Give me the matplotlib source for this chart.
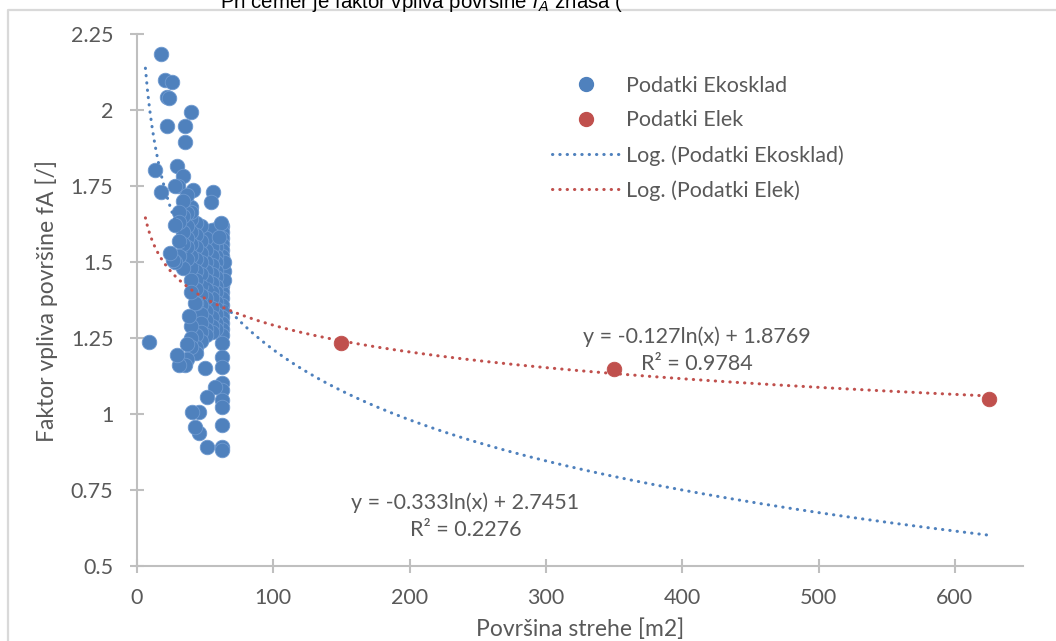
import numpy as np
import matplotlib
matplotlib.use("Agg")
import matplotlib.pyplot as plt
from matplotlib.lines import Line2D

plt.rcParams['font.family'] = ['Lato', 'DejaVu Sans']

# Podatki Ekosklad: površina strehe [m2] in faktor fA
eko_x = [17.6, 20.5, 25.4, 21.8, 23.7, 39.6, 22.2, 35.2, 35.2, 13.4, 29.6, 34.0, 17.6, 30.3, 41.3, 56.0, 54.3,
         9.0,
         62.5, 62.5, 62.5, 62.5, 62.5, 62.5, 62.5, 62.5, 62.5, 62.5, 62.5, 62.5, 62.5, 62.5, 62.5, 62.5, 62.5,
         62.5, 62.5, 62.5, 62.5, 62.5, 62.5, 62.5, 62.5, 62.5, 62.5, 62.5, 62.5,
         64.0, 64.0, 64.0,
         58.0, 58.0, 58.0, 58.0, 58.0, 58.0, 58.0, 58.0, 58.0, 58.0, 58.0, 58.0, 58.0, 58.0, 58.0, 57.2,
         55.0, 55.0, 55.0, 55.0, 55.0, 55.0, 55.0, 55.0, 55.0, 55.0, 55.0, 55.0,
         51.0, 51.0, 51.0, 51.0, 51.0, 51.0, 51.0, 51.0, 51.0, 51.0, 51.0, 49.9, 51.1, 51.1,
         47.0, 47.0, 47.0, 47.0, 47.0, 47.0, 47.0, 47.0, 47.0, 47.0, 47.0, 47.0, 45.5, 45.7,
         43.5, 43.5, 43.5, 43.5, 43.5, 43.5, 43.5, 43.5, 43.5, 43.5, 43.5, 42.5, 42.5,
         40.0, 40.0, 40.0, 40.0, 40.0, 40.0, 40.0, 40.0, 40.0, 38.4, 40.0, 40.0, 40.0, 40.1,
         37.0, 37.0, 37.0, 37.0, 37.0, 37.0, 37.0, 37.0,
         34.0, 34.0, 34.0, 34.0, 34.0, 35.2,
         31.0, 31.0, 31.0, 31.0, 31.0, 29.1,
         28.0, 28.0, 27.9, 26.6, 24.2, 61.6, 60.1]
eko_y = [2.183, 2.099, 2.091, 2.044, 2.039, 1.992, 1.947, 1.947, 1.895, 1.803, 1.816, 1.783, 1.730, 1.750, 1.737, 1.730, 1.698,
         1.238,
         1.62, 1.60, 1.58, 1.56, 1.54, 1.52, 1.50, 1.48, 1.46, 1.44, 1.42, 1.40, 1.38, 1.36, 1.34, 1.32, 1.30,
         1.28, 1.26, 1.234, 1.187, 1.155, 1.102, 1.080, 1.046, 1.023, 0.964, 0.892, 0.880,
         1.47, 1.50, 1.44,
         1.61, 1.57, 1.55, 1.52, 1.50, 1.47, 1.45, 1.42, 1.40, 1.37, 1.35, 1.33, 1.30, 1.28, 1.58, 1.090,
         1.605, 1.55, 1.52, 1.49, 1.46, 1.43, 1.40, 1.38, 1.35, 1.32, 1.29, 1.27,
         1.58, 1.54, 1.50, 1.47, 1.44, 1.41, 1.38, 1.34, 1.31, 1.28, 1.26, 1.151, 1.057, 0.890,
         1.62, 1.57, 1.53, 1.50, 1.46, 1.42, 1.39, 1.36, 1.33, 1.30, 1.27, 1.24, 0.937, 1.008,
         1.628, 1.59, 1.55, 1.51, 1.47, 1.44, 1.41, 1.365, 1.26, 1.22, 1.20, 0.958, 1.365,
         1.682, 1.64, 1.60, 1.56, 1.52, 1.48, 1.44, 1.40, 1.29, 1.322, 1.25, 1.22, 1.665, 1.008,
         1.72, 1.66, 1.62, 1.58, 1.55, 1.51, 1.23, 1.18,
         1.70, 1.65, 1.60, 1.56, 1.479, 1.161,
         1.665, 1.63, 1.52, 1.57, 1.161, 1.194,
         1.75, 1.50, 1.622, 1.507, 1.530, 1.627, 1.583]

# Podatki Elek
elek_x = [150, 350, 625]
elek_y = [1.234, 1.147, 1.049]

# logaritemske trendne črte: y = a*ln(x) + b
eko_a, eko_b = -0.333, 2.7451
elek_a, elek_b = -0.127, 1.8769
trend_x = np.linspace(6.2, 625, 400)

blue = '#4F81BD'
red = '#C0504D'
grey_txt = '#595959'
axis_col = '#BFBFBF'

fig = plt.figure(figsize=(10.56, 6.41), dpi=100)
ax = fig.add_axes([0.1297, 0.117, 0.8391, 0.830])

ax.scatter(eko_x, eko_y, s=110, color=blue, edgecolors='#6F9AD0', linewidths=0.6, zorder=3)
ax.scatter(elek_x, elek_y, s=110, color=red, edgecolors=red, linewidths=0.6, zorder=3)

dots = (0, (0.1, 2.3))
ax.plot(trend_x, eko_a * np.log(trend_x) + eko_b, color=blue, lw=2.2, linestyle=dots,
        dash_capstyle='round', zorder=4)
ax.plot(trend_x, elek_a * np.log(trend_x) + elek_b, color=red, lw=2.2, linestyle=dots,
        dash_capstyle='round', zorder=4)

ax.text(411, 1.21, 'y = -0.127ln(x) + 1.8769\nR² = 0.9784', ha='center', va='center',
        fontsize=15.5, color=grey_txt, linespacing=1.45, zorder=5)
ax.text(241, 0.664, 'y = -0.333ln(x) + 2.7451\nR² = 0.2276', ha='center', va='center',
        fontsize=15.5, color=grey_txt, linespacing=1.45, zorder=5)

ax.set_xlim(0, 650)
ax.set_ylim(0.5, 2.25)
ax.set_xticks([0, 100, 200, 300, 400, 500, 600])
ax.set_yticks([0.5, 0.75, 1.0, 1.25, 1.5, 1.75, 2.0, 2.25])
ax.set_yticklabels(['0.5', '0.75', '1', '1.25', '1.5', '1.75', '2', '2.25'])

for s in ['top', 'right']:
    ax.spines[s].set_visible(False)
for s in ['left', 'bottom']:
    ax.spines[s].set_color(axis_col)
    ax.spines[s].set_linewidth(1.5)
ax.tick_params(axis='both', direction='inout', length=10, width=1.5, color=axis_col,
               labelsize=15.5, labelcolor=grey_txt)
ax.tick_params(axis='x', pad=11)
ax.tick_params(axis='y', pad=12)

fig.text(47 / 1056, 1 - 301 / 641, 'Faktor vpliva površine fA [/]', rotation=90,
         ha='center', va='center', fontsize=16.5, color=grey_txt)
fig.text(580 / 1056, 1 - 629 / 641, 'Površina strehe [m2]', ha='center', va='center',
         fontsize=16.5, color=grey_txt)

# legenda brez okvirja
handles = [
    Line2D([], [], marker='o', linestyle='none', markersize=10, color=blue),
    Line2D([], [], marker='o', linestyle='none', markersize=10, color=red),
    Line2D([], [], color=blue, lw=2.2, linestyle=dots, dash_capstyle='round'),
    Line2D([], [], color=red, lw=2.2, linestyle=dots, dash_capstyle='round'),
]
labels = ['Podatki Ekosklad', 'Podatki Elek', 'Log. (Podatki Ekosklad)', 'Log. (Podatki Elek)']
leg = ax.legend(handles, labels, loc='upper left', bbox_to_anchor=(0.447, 0.958), frameon=False,
                fontsize=15.5, labelcolor=grey_txt, handlelength=3.1, handletextpad=0.3,
                labelspacing=0.68)

# okvir grafikona
fig.add_artist(Line2D([8 / 1056, 8 / 1056, 1.0], [0.0, 1 - 10 / 641, 1 - 10 / 641],
                      transform=fig.transFigure, color='#D9D9D9', lw=1.6))

# naslov nad grafikonom
fig.text(220 / 1056, 1 - 8 / 641, 'Pri čemer je faktor vpliva površine $f_A$ znaša (',
         ha='left', va='baseline', fontsize=14.7, color='black', family='Liberation Sans')

fig.savefig('out.png', dpi=100)
